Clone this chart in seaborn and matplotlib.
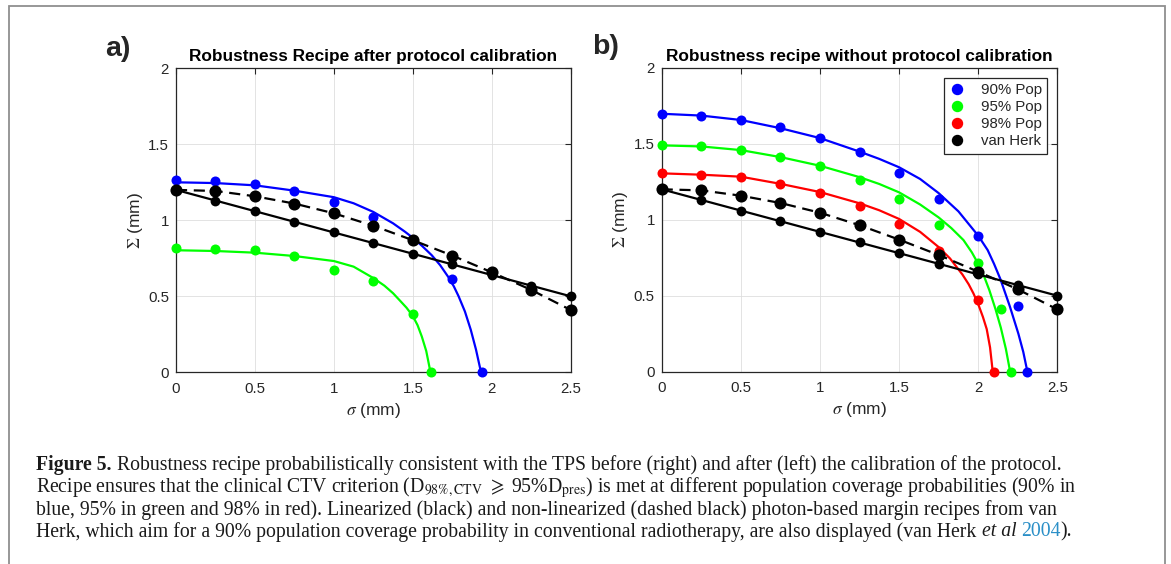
"""
Robustness recipe curves (Figure 5) - after / without protocol calibration
"""
import matplotlib
matplotlib.use("Agg")
import matplotlib.pyplot as plt
import seaborn as sns
from matplotlib.lines import Line2D
from matplotlib.patches import Rectangle


# ---- data ----
SIGMA = [0, 0.25, 0.5, 0.75, 1.0, 1.25, 1.5, 1.75, 2.0, 2.25, 2.5]

# van Herk recipes (same in both panels)
VH_LINEAR = [1.20, 1.13, 1.06, 0.99, 0.92, 0.85, 0.78, 0.71, 0.64, 0.57, 0.50]
VH_NONLINEAR = [1.20, 1.193, 1.158, 1.110, 1.046, 0.964, 0.869, 0.768, 0.658, 0.542, 0.41]

# panel a) after calibration - points
A_90_SIG = [0, 0.25, 0.5, 0.75, 1.0, 1.25, 1.5, 1.75, 1.937]
A_90_VAL = [1.265, 1.259, 1.237, 1.192, 1.121, 1.019, 0.87, 0.611, 0.0]
A_95_SIG = [0, 0.25, 0.5, 0.75, 1.0, 1.25, 1.5, 1.612]
A_95_VAL = [0.820, 0.809, 0.803, 0.765, 0.673, 0.603, 0.385, 0.0]

# panel a) fitted curves (read along the drawn lines)
A_90_FIT_SIG = [0, 0.25, 0.5, 0.75, 1.0, 1.125, 1.25, 1.375, 1.45, 1.5, 1.56, 1.62,
                1.673, 1.726, 1.76, 1.79, 1.83, 1.867, 1.90, 1.932]
A_90_FIT_VAL = [1.250, 1.245, 1.230, 1.195, 1.152, 1.112, 1.055, 0.980, 0.925, 0.885,
                0.830, 0.770, 0.705, 0.625, 0.565, 0.500, 0.400, 0.280, 0.150, 0.0]
A_95_FIT_SIG = [0, 0.25, 0.5, 0.75, 1.0, 1.125, 1.25, 1.32, 1.375, 1.42, 1.46, 1.5,
                1.53, 1.557, 1.585, 1.612]
A_95_FIT_VAL = [0.803, 0.798, 0.787, 0.765, 0.732, 0.695, 0.620, 0.570, 0.520, 0.470,
                0.425, 0.370, 0.310, 0.235, 0.140, 0.0]

# panel b) without calibration - points
B_90_SIG = [0, 0.25, 0.5, 0.75, 1.0, 1.25, 1.5, 1.75, 2.0, 2.25, 2.306]
B_90_VAL = [1.695, 1.680, 1.654, 1.610, 1.540, 1.443, 1.309, 1.136, 0.893, 0.430, 0.0]
B_95_SIG = [0, 0.25, 0.5, 0.75, 1.0, 1.25, 1.5, 1.75, 2.0, 2.146, 2.207]
B_95_VAL = [1.489, 1.485, 1.458, 1.414, 1.353, 1.260, 1.138, 0.967, 0.715, 0.412, 0.0]
B_98_SIG = [0, 0.25, 0.5, 0.75, 1.0, 1.25, 1.5, 1.75, 2.0, 2.098]
B_98_VAL = [1.305, 1.294, 1.283, 1.238, 1.178, 1.092, 0.971, 0.796, 0.470, 0.0]

# panel b) fitted curves
B_90_FIT_SIG = [0, 0.25, 0.5, 0.75, 1.0, 1.25, 1.375, 1.5, 1.633, 1.75, 1.875, 2.0,
                2.06, 2.1, 2.14, 2.17, 2.2, 2.23, 2.254, 2.285, 2.311]
B_90_FIT_VAL = [1.697, 1.685, 1.656, 1.602, 1.537, 1.448, 1.400, 1.345, 1.268, 1.175,
                1.055, 0.895, 0.800, 0.710, 0.610, 0.520, 0.430, 0.330, 0.250, 0.130,
                0.0]
B_95_FIT_SIG = [0, 0.25, 0.5, 0.75, 1.0, 1.25, 1.375, 1.5, 1.633, 1.75, 1.83, 1.907,
                1.96, 2.0, 2.04, 2.071, 2.11, 2.143, 2.175, 2.202]
B_95_FIT_VAL = [1.489, 1.482, 1.458, 1.412, 1.355, 1.280, 1.235, 1.180, 1.100, 1.015,
                0.945, 0.866, 0.785, 0.710, 0.620, 0.535, 0.410, 0.290, 0.150, 0.0]
B_98_FIT_SIG = [0, 0.25, 0.5, 0.75, 1.0, 1.25, 1.375, 1.5, 1.633, 1.75, 1.822, 1.9,
                1.94, 1.97, 2.0, 2.03, 2.054, 2.075, 2.092]
B_98_FIT_VAL = [1.305, 1.296, 1.283, 1.236, 1.182, 1.108, 1.062, 1.005, 0.920, 0.820,
                0.745, 0.640, 0.575, 0.515, 0.445, 0.360, 0.280, 0.160, 0.0]

LEGEND_LABELS = ["90% Pop", "95% Pop", "98% Pop", "van Herk"]
X_TICKS = [0, 0.5, 1, 1.5, 2, 2.5]
X_TICKLABELS = ["0", "0.5", "1", "1.5", "2", "2.5"]
Y_TICKS = [0, 0.5, 1, 1.5, 2]
Y_TICKLABELS = ["0", "0.5", "1", "1.5", "2"]

BLUE, GREEN, RED, BLACK = "#0000ff", "#00ff00", "#ff0000", "#000000"
AX_COLOR = "#262626"
CAP_COLOR = "#1a1a1a"
SERIF = ["Liberation Serif", "DejaVu Serif"]

W, H = 1171, 564

sns.set_theme(style="white")
plt.rcParams["font.family"] = ["Liberation Sans", "DejaVu Sans"]
plt.rcParams["mathtext.fontset"] = "stix"

fig = plt.figure(figsize=(W / 100, H / 100), dpi=100)


def px_box(x0, y0, x1, y1):
    """pixel box (top-left origin) -> figure fraction rect"""
    return [x0 / W, 1 - y1 / H, (x1 - x0) / W, (y1 - y0) / H]


ax_a = fig.add_axes(px_box(176, 68.3, 570.7, 372.3))
ax_b = fig.add_axes(px_box(661.7, 67.7, 1057.3, 371.7))


def draw_fit(ax, sig, val, color):
    sns.lineplot(x=sig, y=val, color=color, lw=1.6, sort=False, estimator=None,
                 ax=ax, zorder=3)


def draw_points(ax, sig, val, color, size=52, z=4):
    sns.scatterplot(x=sig, y=val, color=color, s=size, linewidth=0, ax=ax,
                    clip_on=False, zorder=z)


def draw_van_herk(ax):
    sns.lineplot(x=SIGMA, y=VH_LINEAR, color=BLACK, lw=1.6, sort=False,
                 estimator=None, ax=ax, zorder=5)
    draw_points(ax, SIGMA, VH_LINEAR, BLACK, size=50, z=6)
    sns.lineplot(x=SIGMA, y=VH_NONLINEAR, color=BLACK, lw=1.6, sort=False,
                 estimator=None, ax=ax, zorder=7, linestyle=(0, (5, 3)))
    draw_points(ax, SIGMA, VH_NONLINEAR, BLACK, size=76, z=8)


def style_axes(ax, title):
    ax.set_xlim(0, 2.5)
    ax.set_ylim(0, 2)
    ax.set_xticks(X_TICKS)
    ax.set_xticklabels(X_TICKLABELS)
    ax.set_yticks(Y_TICKS)
    ax.set_yticklabels(Y_TICKLABELS)
    ax.grid(True, color="#dedede", lw=0.6)
    ax.set_axisbelow(True)
    ax.tick_params(direction="in", top=True, right=True, length=4, width=0.8,
                   colors=AX_COLOR, labelsize=10.8)
    ax.tick_params(axis="x", pad=7)
    ax.tick_params(axis="y", pad=5)
    for sp in ax.spines.values():
        sp.set_visible(True)
        sp.set_color(AX_COLOR)
        sp.set_linewidth(0.9)
    ax.set_xlabel(r"$\sigma$ (mm)", fontsize=12.5, color=AX_COLOR, labelpad=3.5)
    ax.set_ylabel(r"$\Sigma$ (mm)", fontsize=12.5, color=AX_COLOR, labelpad=2.5)
    ax.set_title(title, fontsize=12.4, fontweight="bold", color="black", pad=5)


# panel a)
draw_fit(ax_a, A_90_FIT_SIG, A_90_FIT_VAL, BLUE)
draw_fit(ax_a, A_95_FIT_SIG, A_95_FIT_VAL, GREEN)
draw_points(ax_a, A_90_SIG, A_90_VAL, BLUE)
draw_points(ax_a, A_95_SIG, A_95_VAL, GREEN)
draw_van_herk(ax_a)
style_axes(ax_a, "Robustness Recipe after protocol calibration")

# panel b)
draw_fit(ax_b, B_90_FIT_SIG, B_90_FIT_VAL, BLUE)
draw_fit(ax_b, B_95_FIT_SIG, B_95_FIT_VAL, GREEN)
draw_fit(ax_b, B_98_FIT_SIG, B_98_FIT_VAL, RED)
draw_points(ax_b, B_90_SIG, B_90_VAL, BLUE)
draw_points(ax_b, B_95_SIG, B_95_VAL, GREEN)
draw_points(ax_b, B_98_SIG, B_98_VAL, RED)
draw_van_herk(ax_b)
style_axes(ax_b, "Robustness recipe without protocol calibration")

handles = [Line2D([], [], marker="o", ls="none", color=c, markersize=7.2)
           for c in (BLUE, GREEN, RED, BLACK)]
leg = ax_b.legend(handles, LEGEND_LABELS, loc="upper right",
                  bbox_to_anchor=(0.974, 0.966), borderaxespad=0, frameon=True,
                  fancybox=False, framealpha=1, edgecolor=AX_COLOR, fontsize=10.8,
                  handlelength=1.0, handletextpad=1.1, labelspacing=0.2,
                  borderpad=0.35)
leg.get_frame().set_linewidth(0.9)
for t in leg.get_texts():
    t.set_color(AX_COLOR)

# panel letters
fig.text(105 / W, 1 - 49 / H, "a)", fontsize=20.5, fontweight="bold", va="center")
fig.text(592 / W, 1 - 47 / H, "b)", fontsize=20.5, fontweight="bold", va="center")

# frame around the whole figure (open at the bottom)
fig.patches.append(Rectangle((9 / W, -0.1), (1165 - 9) / W, 1 - 6 / H + 0.1,
                             transform=fig.transFigure, fill=False,
                             edgecolor="#8f8f8f", lw=1.3))

# ---- caption, drawn run by run ----
CAP_SIZE = 14.2
renderer = fig.canvas.get_renderer()


def text_width(s, **kw):
    t = fig.text(0, 0, s, fontsize=CAP_SIZE, family=SERIF, **kw)
    w = t.get_window_extent(renderer).width
    t.remove()
    return w


SPACE = text_width("a a") - text_width("aa")


def draw_runs(x_px, base_px, runs):
    x = x_px
    for s, kw in runs:
        if s == " ":
            x += SPACE
            continue
        props = {"color": CAP_COLOR}
        props.update(kw)
        t = fig.text(x / W, 1 - base_px / H, s, fontsize=CAP_SIZE, family=SERIF,
                     va="baseline", ha="left", **props)
        x += t.get_window_extent(renderer).width


draw_runs(36.5, 470, [
    ("Figure 5.", {"fontweight": "bold"}), (" ", {}),
    ("Robustness recipe probabilistically consistent with the TPS before (right) "
     "and after (left) the calibration of the protocol.", {}),
])
draw_runs(36.5, 492, [
    (r"Recipe ensures that the clinical CTV criterion (D$_{98\%,\mathrm{CTV}}$", {}),
    (" ", {}), (r"$\geqslant$", {}), (" ", {}),
    (r"95%D$_{\mathrm{pres}}$) is met at different population coverage "
     r"probabilities (90% in", {}),
])
draw_runs(36.5, 514.5, [
    ("blue, 95% in green and 98% in red). Linearized (black) and non-linearized "
     "(dashed black) photon-based margin recipes from van", {}),
])
draw_runs(36.5, 536.5, [
    ("Herk, which aim for a 90% population coverage probability in conventional "
     "radiotherapy, are also displayed (van Herk", {}),
    (" ", {}), ("et al", {"style": "italic"}), (" ", {}),
    ("2004", {"color": "#2a8fc7"}), (").", {}),
])

fig.savefig("out.png", dpi=100)
